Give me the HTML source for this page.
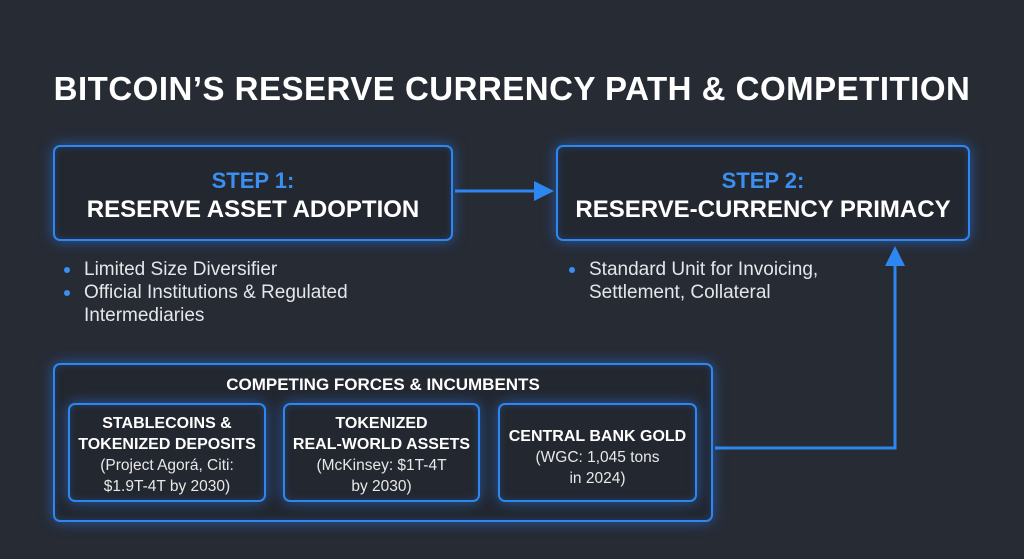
<!DOCTYPE html>
<html><head><style>
*{margin:0;padding:0;box-sizing:border-box}
body{width:1024px;height:559px;background:#272b34;font-family:"Liberation Sans",sans-serif;position:relative;overflow:hidden;color:#fff}
.t{position:absolute;left:0;width:1024px;text-align:center;top:70px;font-size:33px;font-weight:bold;letter-spacing:0.5px}
.box{position:absolute;border:2px solid #2e86f0;border-radius:7px;background:#23272f;box-shadow:0 0 14px rgba(40,130,255,.55),inset 0 0 8px rgba(40,130,255,.25);text-align:center}
.step{color:#3a8ff0;font-weight:bold;font-size:22px;margin-top:21px}
.h{font-weight:bold;font-size:24px;margin-top:2px}
.bl{position:absolute;font-size:19px;color:#e4e6ea;line-height:23px}
.bl div{position:relative;padding-left:22px}
.bl div.d:before{content:"";position:absolute;left:2px;top:9px;width:6px;height:6px;border-radius:50%;background:#3a8ff0}
.in{font-size:15.5px;line-height:21px;color:#e8e8e8}
.in b{font-size:16px;color:#fff}
</style></head><body>
<div class="t">BITCOIN’S RESERVE CURRENCY PATH &amp; COMPETITION</div>
<div class="box" style="left:53px;top:145px;width:400px;height:96px"><div class="step">STEP 1:</div><div class="h">RESERVE ASSET ADOPTION</div></div>
<div class="box" style="left:556px;top:145px;width:414px;height:96px"><div class="step">STEP 2:</div><div class="h">RESERVE-CURRENCY PRIMACY</div></div>
<div class="bl" style="left:62px;top:258px"><div class="d">Limited Size Diversifier</div><div class="d">Official Institutions &amp; Regulated</div><div>Intermediaries</div></div>
<div class="bl" style="left:567px;top:258px"><div class="d">Standard Unit for Invoicing,</div><div>Settlement, Collateral</div></div>
<div class="box" style="left:53px;top:363px;width:660px;height:159px"><div style="font-weight:bold;font-size:17px;margin-top:10px">COMPETING FORCES &amp; INCUMBENTS</div></div>
<div class="box in" style="left:68px;top:403px;width:198px;height:99px;padding-top:8px"><b>STABLECOINS &amp;<br>TOKENIZED DEPOSITS</b><br>(Project Agorá, Citi:<br>$1.9T-4T by 2030)</div>
<div class="box in" style="left:283px;top:403px;width:197px;height:99px;padding-top:8px"><b>TOKENIZED<br>REAL-WORLD ASSETS</b><br>(McKinsey: $1T-4T<br>by 2030)</div>
<div class="box in" style="left:498px;top:403px;width:199px;height:99px;padding-top:21px"><b>CENTRAL BANK GOLD</b><br>(WGC: 1,045 tons<br>in 2024)</div>
<svg width="1024" height="559" style="position:absolute;left:0;top:0">
<g stroke="#2e86f0" stroke-width="3" fill="none"><line x1="455" y1="191" x2="536" y2="191"/><polyline points="715,448 895,448 895,262"/></g>
<g fill="#2e86f0"><polygon points="554,191 534,181 534,201"/><polygon points="895,246 885,266 905,266"/></g>
</svg>
</body></html>
